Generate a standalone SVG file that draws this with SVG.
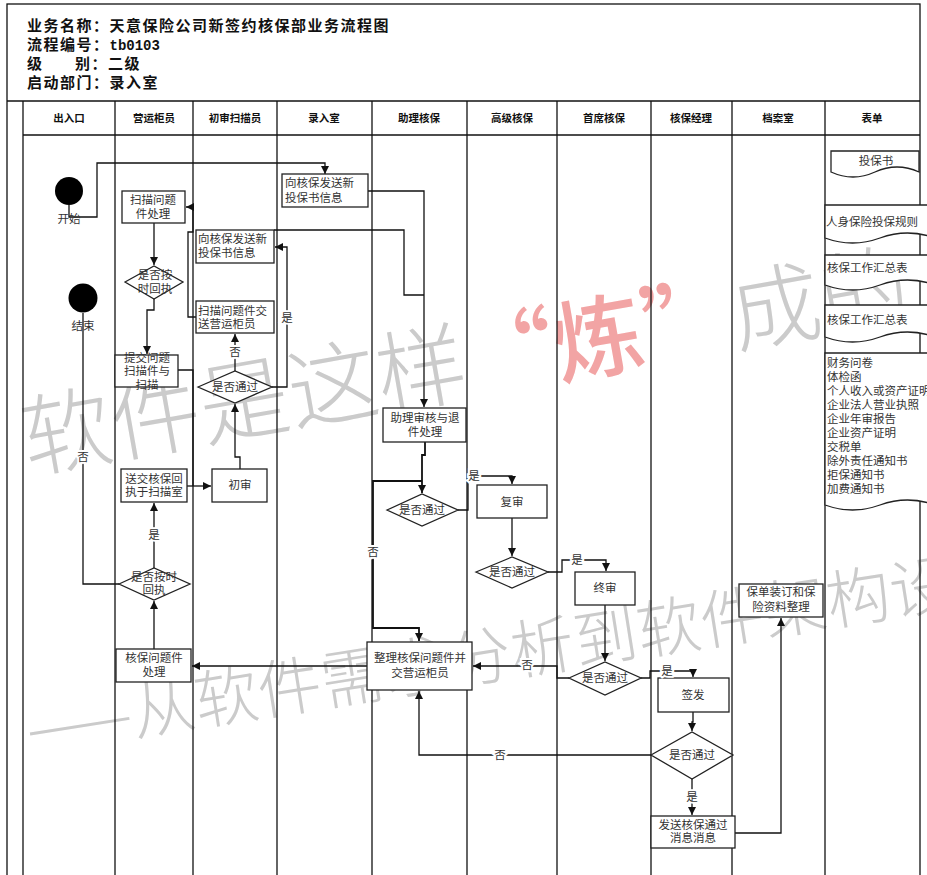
<svg xmlns="http://www.w3.org/2000/svg" width="927" height="875" viewBox="0 0 927 875">
<defs>
<style>
.ln{stroke:#111;stroke-width:1.3;fill:none}
.c{stroke:#111;stroke-width:1.3;fill:none;marker-end:url(#ah)}
.cn{stroke:#111;stroke-width:1.3;fill:none}
.box{fill:#fff;stroke:#222;stroke-width:1.3}
.t{font-family:"Noto Sans CJK SC","Liberation Sans",sans-serif;font-size:11.5px;fill:#333;text-anchor:middle}
.tl{font-family:"Noto Sans CJK SC","Liberation Sans",sans-serif;font-size:11.5px;fill:#333}
.hd{font-family:"Noto Sans CJK SC","Liberation Sans",sans-serif;font-size:10.5px;font-weight:bold;fill:#111;text-anchor:middle}
.ti{font-family:"Noto Sans CJK SC","Liberation Sans",sans-serif;font-size:15px;font-weight:bold;fill:#111;letter-spacing:1.5px}
.lb{font-family:"Noto Sans CJK SC","Liberation Sans",sans-serif;font-size:11.5px;fill:#333;text-anchor:middle;stroke:#fff;stroke-width:4;paint-order:stroke}
.wm{font-family:"Noto Sans CJK SC","Liberation Sans",sans-serif;font-weight:300;fill:#cbcbcb}
</style>
<marker id="ah" viewBox="0 0 10 10" refX="10" refY="5" markerWidth="9" markerHeight="8" markerUnits="userSpaceOnUse" orient="auto">
<path d="M0,0 L10,5 L0,10 z" fill="#111"/>
</marker>
</defs>
<rect width="927" height="875" fill="#fff"/>

<g id="watermark">
<text class="wm" x="28" y="472" font-size="90" transform="rotate(-10 28 472)">软件是这样<tspan fill="#f2a4a4" font-weight="500">“炼”</tspan>成的</text>
<text class="wm" x="30" y="752" font-size="64" transform="rotate(-9 30 752)">——从软件需求分析到软件架构设计</text>
</g>

<g id="frame">
<rect x="7" y="4" width="913" height="880" fill="none" stroke="#111" stroke-width="1.3"/>
<line class="ln" x1="7" y1="101" x2="920" y2="101"/>
<line class="ln" x1="23" y1="135" x2="920" y2="135"/>
<line class="ln" x1="23" y1="101" x2="23" y2="875"/>
<line class="ln" x1="115" y1="101" x2="115" y2="875"/>
<line class="ln" x1="193" y1="101" x2="193" y2="875"/>
<line class="ln" x1="277" y1="101" x2="277" y2="875"/>
<line class="ln" x1="372" y1="101" x2="372" y2="875"/>
<line class="ln" x1="467" y1="101" x2="467" y2="875"/>
<line class="ln" x1="557" y1="101" x2="557" y2="875"/>
<line class="ln" x1="651" y1="101" x2="651" y2="875"/>
<line class="ln" x1="732" y1="101" x2="732" y2="875"/>
<line class="ln" x1="825" y1="101" x2="825" y2="875"/>
</g>

<g id="title">
<text class="ti" x="27" y="31">业务名称：天意保险公司新签约核保部业务流程图</text>
<text class="ti" x="27" y="50">流程编号：<tspan font-family="Liberation Mono" font-size="14" letter-spacing="0">tb0103</tspan></text>
<text class="ti" x="27" y="69">级</text>
<text class="ti" x="75" y="69">别：二级</text>
<text class="ti" x="27" y="88">启动部门：录入室</text>
</g>

<g id="lane-headers">
<text class="hd" x="69" y="122">出入口</text>
<text class="hd" x="154" y="122">营运柜员</text>
<text class="hd" x="235" y="122">初审扫描员</text>
<text class="hd" x="324" y="122">录入室</text>
<text class="hd" x="419" y="122">助理核保</text>
<text class="hd" x="512" y="122">高级核保</text>
<text class="hd" x="604" y="122">首席核保</text>
<text class="hd" x="691" y="122">核保经理</text>
<text class="hd" x="778" y="122">档案室</text>
<text class="hd" x="872" y="122">表单</text>
</g>

<g id="connectors">
<path class="c" d="M69,205 V217 H97 V163 H325 V174"/>
<path class="c" d="M368,191 H424 V407"/>
<path class="cn" d="M274,230 H404 V295 H424"/>
<path class="c" d="M235,371 V334"/>
<path class="c" d="M272,387 H287 V247 H275"/>
<path class="c" d="M196,317 H188 V232 H193 V207 H186"/>
<path class="c" d="M154,223 V265"/>
<path class="c" d="M154,299 V310 H147 V354"/>
<path class="cn" d="M178,370 H193 V486"/>
<path class="c" d="M187,486 H211"/>
<path class="c" d="M240,469 V457 H235 V404"/>
<path class="c" d="M154,568 V503"/>
<path class="cn" d="M119,584 H83 V313"/>
<path class="c" d="M154,649 V601"/>
<path class="c" d="M367,666 H192"/>
<path class="c" d="M425,442 V455 H422 V493" style="stroke-width:1.8"/>
<path class="c" d="M422,481 H373 V628 H419 V641" style="stroke-width:1.8"/>
<path class="c" d="M458,510 H468 V476 H512 V484"/>
<path class="c" d="M512,518 V556"/>
<path class="c" d="M548,572 H562 V560 H606 V571"/>
<path class="c" d="M605,605 V661"/>
<path class="c" d="M569,678 H557 V666 H473"/>
<path class="c" d="M641,678 H650 V671 H693 V677"/>
<path class="c" d="M693,712 V722 H692 V731"/>
<path class="c" d="M651,755 H419 V691"/>
<path class="c" d="M692,779 V815"/>
<path class="c" d="M735,833 H781 V618"/>
</g>

<g id="start">
<circle cx="69" cy="191" r="14" fill="#000"/>
<text class="t" x="69" y="223">开始</text>
</g>
<g id="end">
<circle cx="83" cy="298" r="14.5" fill="#000"/>
<text class="t" x="83" y="330">结束</text>
</g>

<g id="n-luru-send">
<rect class="box" x="282" y="174" width="86" height="33"/>
<text class="tl" x="285" y="187">向核保发送新</text>
<text class="tl" x="285" y="202">投保书信息</text>
</g>
<g id="n-chushen-send">
<rect class="box" x="196" y="230" width="78" height="33"/>
<text class="tl" x="198" y="243">向核保发送新</text>
<text class="tl" x="198" y="257">投保书信息</text>
</g>
<g id="n-scan-issue-send">
<rect class="box" x="196" y="301" width="78" height="32"/>
<text class="tl" x="198" y="315">扫描问题件交</text>
<text class="tl" x="198" y="328">送营运柜员</text>
</g>
<g id="n-scan-issue">
<rect class="box" x="122" y="191" width="63" height="32"/>
<text class="t" x="153" y="204">扫描问题</text>
<text class="t" x="153" y="218">件处理</text>
</g>
<g id="d-ontime1">
<polygon class="box" points="125,282 154,266 183,282 154,299"/>
<text class="t" x="155" y="279">是否按</text>
<text class="t" x="155" y="293">时回执</text>
</g>
<g id="n-submit">
<rect class="box" x="115" y="355" width="63" height="32"/>
<text class="t" x="147" y="362">提交问题</text>
<text class="t" x="147" y="375">扫描件与</text>
<text class="t" x="147" y="389">扫描</text>
</g>
<g id="d-chushen">
<polygon class="box" points="198,387 235,371 272,387 235,403"/>
<text class="t" x="235" y="391">是否通过</text>
</g>
<g id="n-send-receipt">
<rect class="box" x="121" y="469" width="66" height="33"/>
<text class="t" x="154" y="483">送交核保回</text>
<text class="t" x="154" y="496">执于扫描室</text>
</g>
<g id="n-chushen">
<rect class="box" x="212" y="469" width="55" height="33"/>
<text class="t" x="240" y="489">初审</text>
</g>
<g id="d-ontime2">
<polygon class="box" points="119,584 154,568 190,584 154,600"/>
<text class="t" x="154" y="581">是否按时</text>
<text class="t" x="154" y="594">回执</text>
</g>
<g id="n-uw-issue">
<rect class="box" x="116" y="649" width="75" height="33"/>
<text class="t" x="154" y="662">核保问题件</text>
<text class="t" x="154" y="676">处理</text>
</g>
<g id="n-assist">
<rect class="box" x="383" y="408" width="83" height="34"/>
<text class="t" x="425" y="422">助理审核与退</text>
<text class="t" x="425" y="436">件处理</text>
</g>
<g id="d-assist">
<polygon class="box" points="387,510 422,494 458,510 422,526"/>
<text class="t" x="422" y="514">是否通过</text>
</g>
<g id="n-review">
<rect class="box" x="477" y="485" width="70" height="33"/>
<text class="t" x="512" y="506">复审</text>
</g>
<g id="d-senior">
<polygon class="box" points="476,572 512,557 548,572 512,588"/>
<text class="t" x="512" y="576">是否通过</text>
</g>
<g id="n-final">
<rect class="box" x="575" y="572" width="60" height="33"/>
<text class="t" x="605" y="592">终审</text>
</g>
<g id="d-chief">
<polygon class="box" points="569,678 605,662 641,678 605,695"/>
<text class="t" x="605" y="682">是否通过</text>
</g>
<g id="n-organize">
<rect class="box" x="367" y="642" width="105" height="48"/>
<text class="t" x="420" y="662">整理核保问题件并</text>
<text class="t" x="420" y="677">交营运柜员</text>
</g>
<g id="n-issue">
<rect class="box" x="658" y="678" width="71" height="34"/>
<text class="t" x="693" y="699">签发</text>
</g>
<g id="d-manager">
<polygon class="box" points="651,755 692,732 733,755 692,779"/>
<text class="t" x="692" y="759">是否通过</text>
</g>
<g id="n-notify">
<rect class="box" x="651" y="816" width="84" height="32"/>
<text class="t" x="693" y="829">发送核保通过</text>
<text class="t" x="693" y="842">消息消息</text>
</g>
<g id="n-archive">
<rect class="box" x="739" y="584" width="84" height="33"/>
<text class="t" x="781" y="596">保单装订和保</text>
<text class="t" x="781" y="611">险资料整理</text>
</g>

<g id="doc-1">
<path class="box" d="M831,151 H919 V172 Q897,162 875,172 T831,172 Z"/>
<text class="t" x="876" y="165">投保书</text>
</g>
<g id="doc-2">
<path class="box" d="M825,205 H935 V238 Q907.5,228 880,238 T825,238 Z"/>
<text class="tl" x="826" y="226">人身保险投保规则</text>
</g>
<g id="doc-3">
<path class="box" d="M825,255 H935 V285 Q907.5,275 880,285 T825,285 Z"/>
<text class="tl" x="827" y="272">核保工作汇总表</text>
</g>
<g id="doc-4">
<path class="box" d="M825,305 H935 V337 Q907.5,327 880,337 T825,337 Z"/>
<text class="tl" x="827" y="324">核保工作汇总表</text>
</g>
<g id="doc-5">
<path class="box" d="M825,353 H935 V505 Q907.5,495 880,505 T825,505 Z"/>
<text class="tl" x="827" y="367">财务问卷</text>
<text class="tl" x="827" y="381">体检函</text>
<text class="tl" x="827" y="395">个人收入或资产证明</text>
<text class="tl" x="827" y="409">企业法人营业执照</text>
<text class="tl" x="827" y="423">企业年审报告</text>
<text class="tl" x="827" y="437">企业资产证明</text>
<text class="tl" x="827" y="451">交税单</text>
<text class="tl" x="827" y="465">除外责任通知书</text>
<text class="tl" x="827" y="479">拒保通知书</text>
<text class="tl" x="827" y="493">加费通知书</text>
</g>

<g id="labels">
<text class="lb" x="235" y="356">否</text>
<text class="lb" x="287" y="322">是</text>
<text class="lb" x="154" y="539">是</text>
<text class="lb" x="83" y="461">否</text>
<text class="lb" x="373" y="556">否</text>
<text class="lb" x="474" y="480">是</text>
<text class="lb" x="577" y="564">是</text>
<text class="lb" x="527" y="669">否</text>
<text class="lb" x="667" y="675">是</text>
<text class="lb" x="500" y="759">否</text>
<text class="lb" x="692" y="801">是</text>
</g>
</svg>
